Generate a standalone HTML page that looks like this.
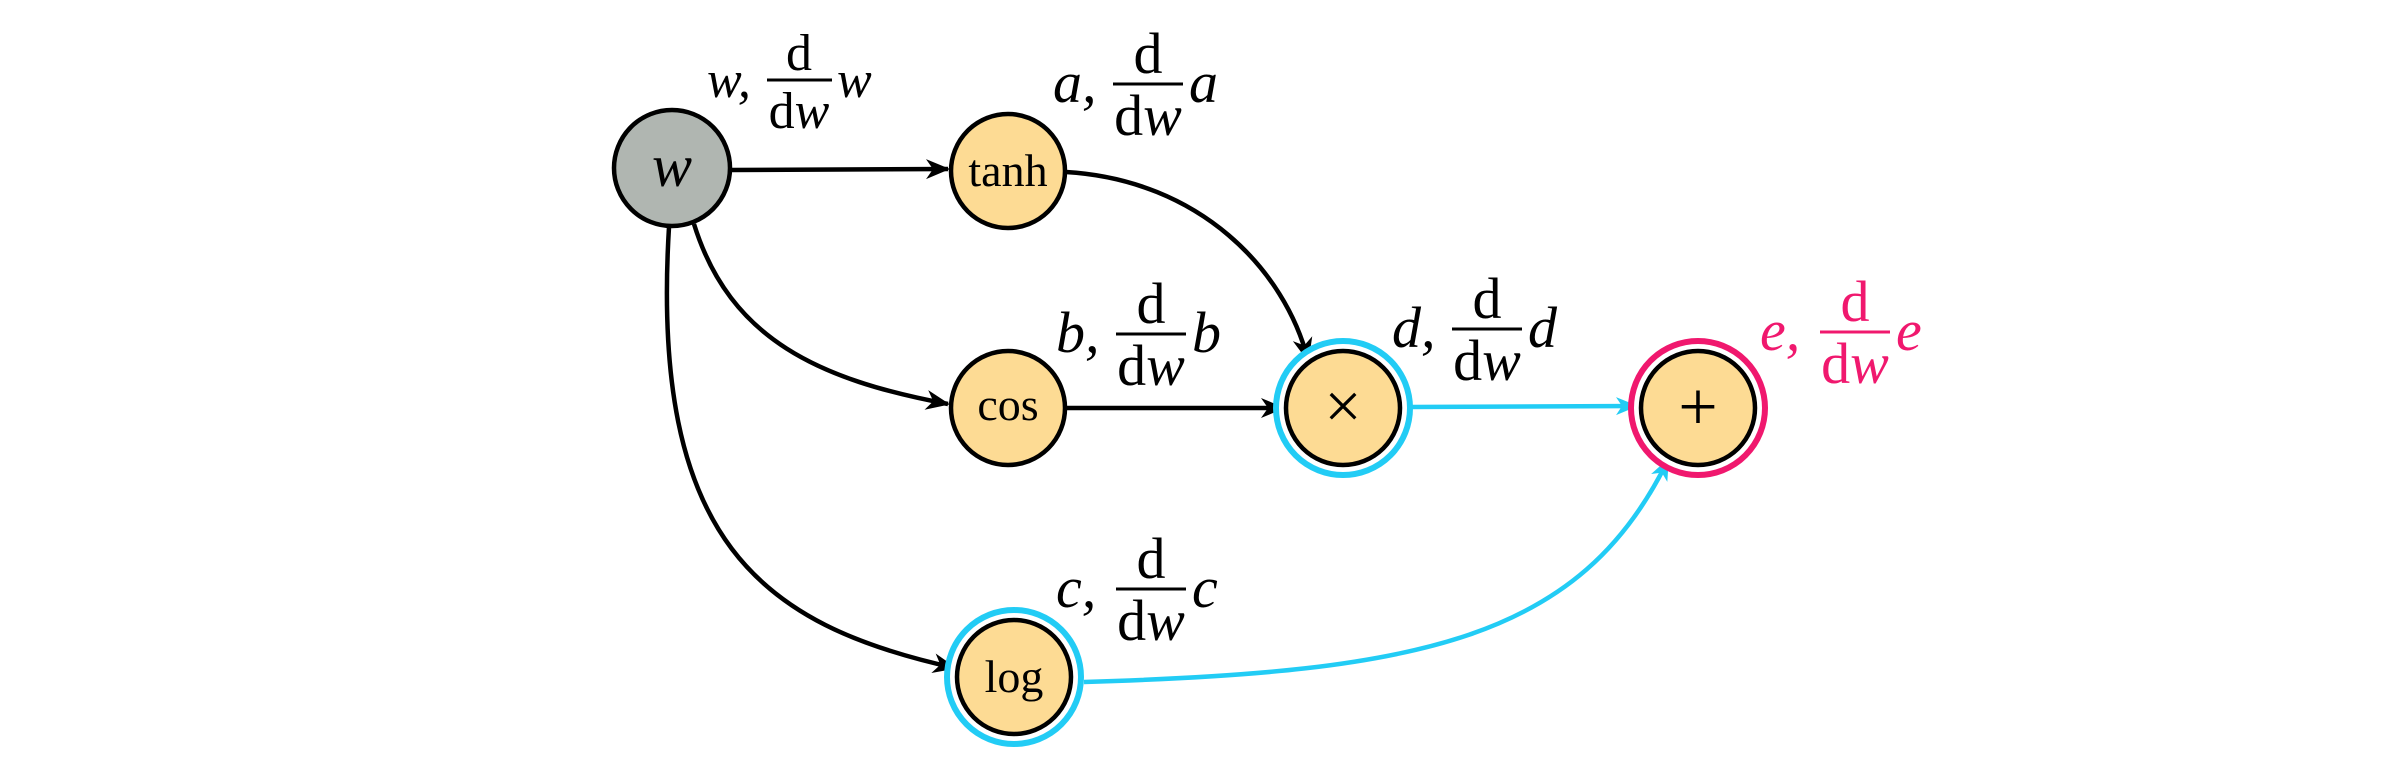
<!DOCTYPE html>
<html><head><meta charset="utf-8"><style>
html,body{margin:0;padding:0;background:#fff;}
svg{display:block;}
text{font-family:"Liberation Serif",serif;}
.it{font-style:italic;}
</style></head><body>
<svg width="2400" height="764" viewBox="0 0 2400 764">
<defs>
<marker id="ac" markerWidth="22" markerHeight="22" refX="20" refY="11" orient="auto" markerUnits="userSpaceOnUse"><path d="M0,2 L22,11 L0,20 L6,11 Z" fill="#22ccf5"/></marker>
<marker id="ak" markerWidth="24" markerHeight="24" refX="22" refY="12" orient="auto" markerUnits="userSpaceOnUse"><path d="M0,2 L24,12 L0,22 L7,12 Z" fill="#000"/></marker>
</defs>
<g fill="none" stroke="#000" stroke-width="4.5">
<path d="M731,170 L948,169" marker-end="url(#ak)"/>
<path d="M694,224 C730,340 820,380 948,404" marker-end="url(#ak)"/>
<path d="M669,227 C650,540 760,625 955,668" marker-end="url(#ak)"/>
<path d="M1066,172 C1200,180 1285,270 1308,360" marker-end="url(#ak)"/>
<path d="M1066,408 L1283,408" marker-end="url(#ak)"/>
</g>
<g fill="none" stroke="#22ccf5" stroke-width="4.5">
<path d="M1410,407 L1636,406" marker-end="url(#ac)"/>
<path d="M1084,682 C1420,672 1580,640 1668,460" marker-end="url(#ac)"/>
</g>
<g stroke-width="4.5">
<circle cx="672" cy="168" r="58" fill="#b0b6b1" stroke="#000"/>
<circle cx="1008" cy="171" r="57" fill="#fddb94" stroke="#000"/>
<circle cx="1008" cy="408" r="57" fill="#fddb94" stroke="#000"/>
<circle cx="1343" cy="408" r="67" fill="#fff" stroke="#22ccf5" stroke-width="6"/>
<circle cx="1343" cy="408" r="57" fill="#fddb94" stroke="#000"/>
<circle cx="1698" cy="408" r="67" fill="#fff" stroke="#f0186e" stroke-width="6"/>
<circle cx="1698" cy="408" r="57" fill="#fddb94" stroke="#000"/>
<circle cx="1014" cy="677" r="67" fill="#fff" stroke="#22ccf5" stroke-width="6"/>
<circle cx="1014" cy="677" r="57" fill="#fddb94" stroke="#000"/>
</g>
<g text-anchor="middle" fill="#000">
<text class="it" x="672" y="186" font-size="60">w</text>
<text x="1008" y="186" font-size="46">tanh</text>
<text x="1008" y="420" font-size="46">cos</text>
<text x="1343" y="428" font-size="66">×</text>
<text x="1698" y="430" font-size="70">+</text>
<text x="1014" y="692" font-size="46">log</text>
</g>
<g fill="#000" font-size="52">
<text class="it" x="707" y="97">w,</text>
<line x1="767" y1="80" x2="832" y2="80" stroke="#000" stroke-width="3"/>
<text x="799" y="70" text-anchor="middle">d</text>
<text x="799" y="128" text-anchor="middle">d<tspan class="it">w</tspan></text>
<text class="it" x="837" y="97">w</text>
</g>
<g fill="#000" font-size="58">
<text class="it" x="1053" y="102">a,</text>
<line x1="1113" y1="84" x2="1183" y2="84" stroke="#000" stroke-width="3"/>
<text x="1148" y="73" text-anchor="middle">d</text>
<text x="1148" y="135" text-anchor="middle">d<tspan class="it">w</tspan></text>
<text class="it" x="1189" y="102">a</text>
</g>
<g fill="#000" font-size="58">
<text class="it" x="1056" y="352">b,</text>
<line x1="1116" y1="334" x2="1186" y2="334" stroke="#000" stroke-width="3"/>
<text x="1151" y="323" text-anchor="middle">d</text>
<text x="1151" y="385" text-anchor="middle">d<tspan class="it">w</tspan></text>
<text class="it" x="1192" y="352">b</text>
</g>
<g fill="#000" font-size="58">
<text class="it" x="1392" y="347">d,</text>
<line x1="1452" y1="329" x2="1522" y2="329" stroke="#000" stroke-width="3"/>
<text x="1487" y="318" text-anchor="middle">d</text>
<text x="1487" y="380" text-anchor="middle">d<tspan class="it">w</tspan></text>
<text class="it" x="1528" y="347">d</text>
</g>
<g fill="#f0186e" font-size="58">
<text class="it" x="1760" y="350">e,</text>
<line x1="1820" y1="332" x2="1890" y2="332" stroke="#f0186e" stroke-width="3"/>
<text x="1855" y="321" text-anchor="middle">d</text>
<text x="1855" y="383" text-anchor="middle">d<tspan class="it">w</tspan></text>
<text class="it" x="1896" y="350">e</text>
</g>
<g fill="#000" font-size="58">
<text class="it" x="1056" y="607">c,</text>
<line x1="1116" y1="589" x2="1186" y2="589" stroke="#000" stroke-width="3"/>
<text x="1151" y="578" text-anchor="middle">d</text>
<text x="1151" y="640" text-anchor="middle">d<tspan class="it">w</tspan></text>
<text class="it" x="1192" y="607">c</text>
</g>
</svg>
</body></html>
